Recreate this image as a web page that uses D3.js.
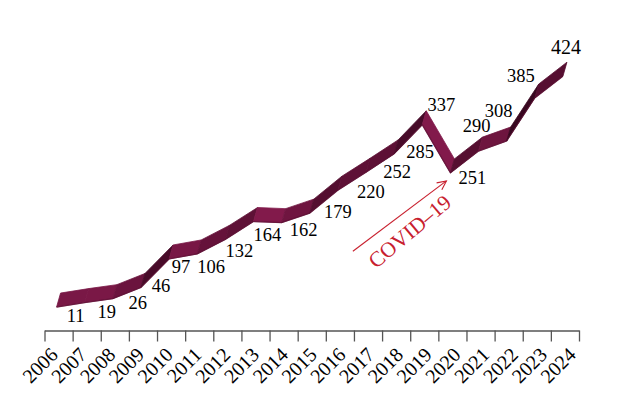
<!DOCTYPE html>
<html>
<head>
<meta charset="utf-8">
<script src="https://cdn.jsdelivr.net/npm/d3@7"></script>
<style>
  body { margin: 0; background: #fff; }
  svg text { font-family: "Liberation Serif", "Times New Roman", serif; }
</style>
</head>
<body>
<div id="chart"></div>
<script>
// chart data
var years = ["2006", "2007", "2008", "2009", "2010", "2011", "2012", "2013", "2014", "2015",
  "2016", "2017", "2018", "2019", "2020", "2021", "2022", "2023", "2024"];
var counts = [11, 19, 26, 46, 97, 106, 132, 164, 162, 179, 220, 252, 285, 337, 251, 290, 308, 385, 424];
var annotationText = "COVID\u201319";

// where each value label sits relative to its point (styling only)
var labelNudge = [[17, 22], [20, 22], [23, 17], [18, 12], [10, 21], [12, 26], [12, 25], [12, 26],
  [20, 20], [26, 12], [31, 15], [29, 13], [24, 11], [17, -7], [20, 18], [-4, -12], [-10, -17],
  [-16, -9], [1, -15]];

var width = 618, height = 408;

var svg = d3.select("#chart").append("svg")
  .attr("width", width)
  .attr("height", height);

svg.append("rect")
  .attr("width", width)
  .attr("height", height)
  .attr("fill", "#fff");

var x = d3.scaleBand()
  .domain(years)
  .range([44.5, 579]);

var y = d3.scaleLinear()
  .domain([0, 424])
  .range([306.2, 69.2]);

// axis with ticks on the category boundaries
var xEdges = d3.scaleLinear()
  .domain([0, years.length])
  .range(x.range());

svg.append("g")
  .attr("transform", "translate(0,330.5)")
  .call(d3.axisBottom(xEdges)
    .tickValues(d3.range(years.length + 1))
    .tickSize(11)
    .tickSizeOuter(0)
    .tickFormat(""))
  .call(function(g) {
    g.selectAll("line, path").attr("stroke", "#555").attr("stroke-width", 1.3);
  });

// year labels, rotated
var xLabel = d3.scalePoint()
  .domain(years)
  .range([59, 577]);

svg.append("g")
  .selectAll("text")
  .data(years)
  .enter()
  .append("text")
  .attr("transform", function(d) {
    return "translate(" + xLabel(d) + ",356) rotate(-45)";
  })
  .attr("text-anchor", "end")
  .attr("fill", "#000")
  .style("font-size", "20px")
  .text(function(d) { return d; });

// ribbon
var pts = counts.map(function(v, i) {
  return [x(years[i]) + x.bandwidth() / 2, y(v)];
});

var lower = [-2, 7], upper = [2, -7];
var shade = d3.interpolateRgb("#821a4b", "#380720");

var segs = d3.range(pts.length - 1).map(function(i) {
  var a = pts[i], b = pts[i + 1];
  var slope = (a[1] - b[1]) / (b[0] - a[0]);
  return { a: a, b: b, t: Math.max(0, Math.min(1, slope / 1.3)) };
});

var ribbon = svg.append("g").attr("class", "ribbon");

ribbon.selectAll(".seg")
  .data(segs)
  .enter()
  .append("path")
  .attr("class", "seg")
  .attr("d", function(s) {
    return "M" + (s.a[0] + lower[0]) + "," + (s.a[1] + lower[1]) +
      "L" + (s.b[0] + lower[0]) + "," + (s.b[1] + lower[1]) +
      "L" + (s.b[0] + upper[0]) + "," + (s.b[1] + upper[1]) +
      "L" + (s.a[0] + upper[0]) + "," + (s.a[1] + upper[1]) + "Z";
  })
  .attr("fill", function(s) { return shade(s.t); })
  .attr("stroke", function(s) { return shade(s.t); })
  .attr("stroke-width", 0.8)
  .attr("stroke-linejoin", "round");

ribbon.append("path")
  .attr("d", d3.line()(pts.map(function(p) { return [p[0] + lower[0], p[1] + lower[1]]; })))
  .attr("fill", "none")
  .attr("stroke", "#5a0d30")
  .attr("stroke-width", 1.2)
  .attr("opacity", 0.7);

// value labels
svg.append("g")
  .selectAll("text")
  .data(counts)
  .enter()
  .append("text")
  .attr("x", function(d, i) { return pts[i][0] + labelNudge[i][0]; })
  .attr("y", function(d, i) { return pts[i][1] + labelNudge[i][1]; })
  .attr("text-anchor", "middle")
  .attr("fill", "#000")
  .style("font-size", function(d, i) { return i === counts.length - 1 ? "20px" : "18.5px"; })
  .text(function(d) { return d; });

// COVID annotation
var red = "#c8202e";
var arrowFrom = [pts[10][0] + 13, pts[10][1] + 68];
var arrowTo = [pts[14][0] - 6, pts[14][1] + 15];
var ang = Math.atan2(arrowTo[1] - arrowFrom[1], arrowTo[0] - arrowFrom[0]);
var head = 10, spread = 0.45;

svg.append("line")
  .attr("x1", arrowFrom[0]).attr("y1", arrowFrom[1])
  .attr("x2", arrowTo[0]).attr("y2", arrowTo[1])
  .attr("stroke", red)
  .attr("stroke-width", 1.1);

svg.append("path")
  .attr("d", "M" + (arrowTo[0] - head * Math.cos(ang - spread)) + "," + (arrowTo[1] - head * Math.sin(ang - spread)) +
    "L" + arrowTo[0] + "," + arrowTo[1] +
    "L" + (arrowTo[0] - head * Math.cos(ang + spread)) + "," + (arrowTo[1] - head * Math.sin(ang + spread)))
  .attr("fill", "none")
  .attr("stroke", red)
  .attr("stroke-width", 1.1);

svg.append("text")
  .attr("transform", "translate(" + (arrowFrom[0] + 23) + "," + (arrowFrom[1] + 18) + ") rotate(-40)")
  .attr("fill", red)
  .style("font-size", "21.5px")
  .text(annotationText);
</script>
</body>
</html>
